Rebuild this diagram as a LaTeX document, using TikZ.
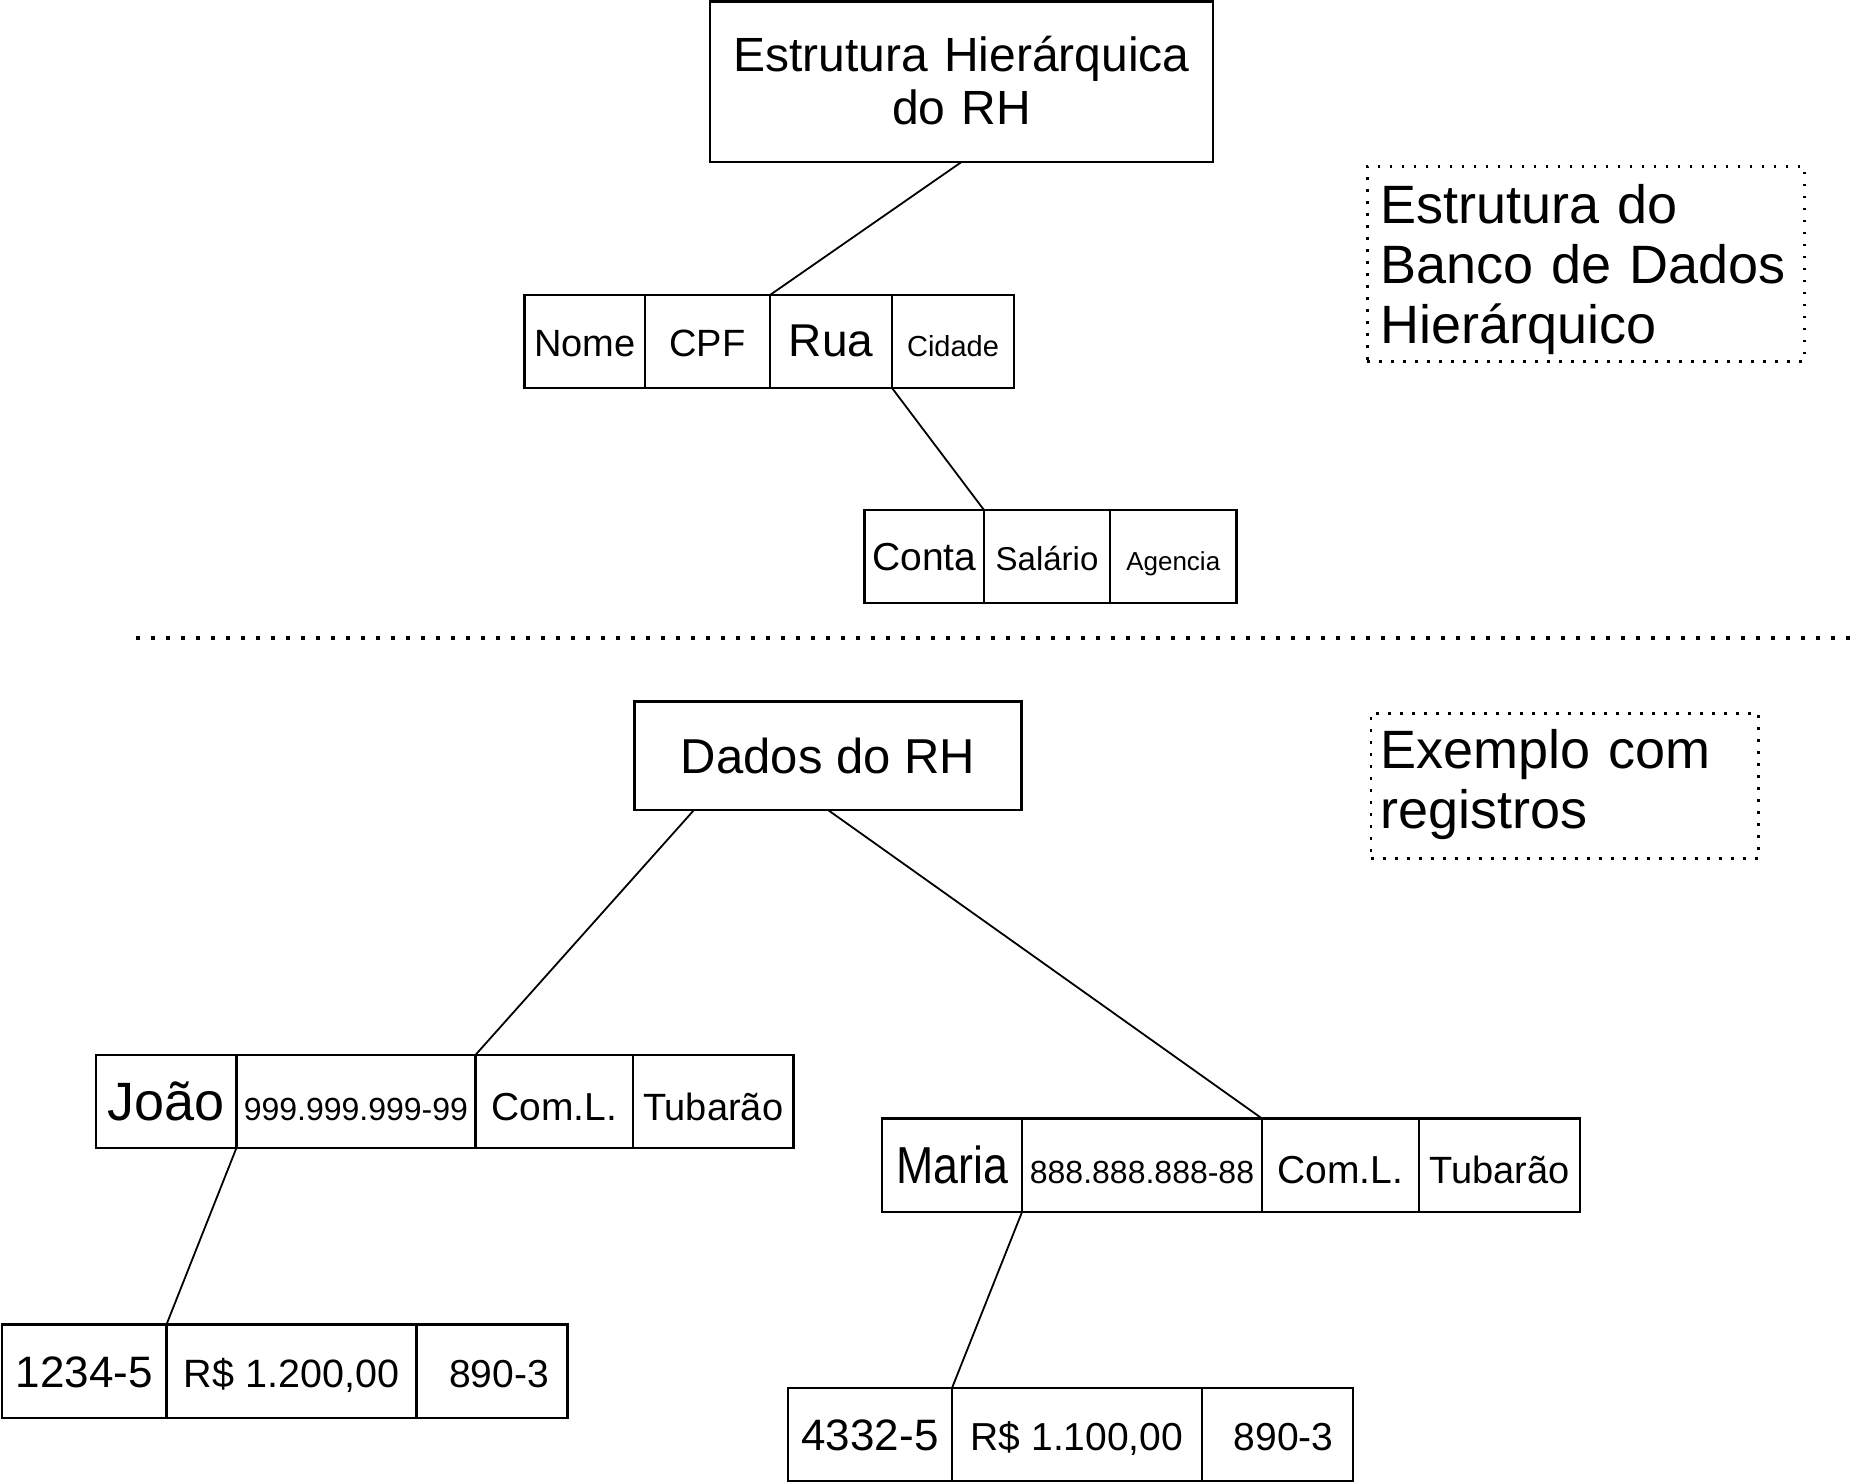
\documentclass[tikz,border=0pt]{standalone}
\usepackage{graphicx}
\usepackage{fontspec}
\setmainfont{Liberation Sans}
\begin{document}
\begin{tikzpicture}[x=1pt,y=-1pt,
  box/.style={draw, line width=2.2pt, inner sep=0pt, outer sep=0pt, anchor=north west},
  cell/.style={box, text depth=0pt},
  fs/.style={font=\fontsize{#1pt}{#1pt}\selectfont},
  link/.style={line width=1.8pt},
  dotbox/.style={draw, line width=2.8pt, dash pattern=on 2.8pt off 9.2pt, inner sep=0pt, anchor=north west, align=left},
  sepline/.style={line width=3.5pt, dash pattern=on 3.5pt off 11.5pt},
]
\useasboundingbox (0,0) rectangle (1859,1483);

% ---------- upper structure ----------
\node[box, font=\fontsize{48pt}{53pt}\selectfont, minimum width=503pt, minimum height=160.5pt,
      text width=480pt, align=center, text height=34.4pt, text depth=55.4pt] (title) at (710,1.5)
      {Estrutura Hierárquica\\do RH};

\begin{scope}[every node/.append style={minimum height=93pt, text height=29pt}]
\node[cell, fs=38, minimum width=120.5pt] (nome)   at (524.5,295) {Nome};
\node[cell, fs=38, minimum width=125pt]   (cpf)    at (645,295)   {CPF};
\node[cell, fs=46, minimum width=122pt]   (rua)    at (770,295)   {Rua};
\node[cell, fs=29, minimum width=122pt]   (cidade) at (892,295)   {Cidade};
\end{scope}

\begin{scope}[every node/.append style={minimum height=93pt, text height=28pt}]
\node[cell, fs=39, minimum width=119.5pt] (conta)   at (864.5,510) {Conta};
\node[cell, fs=33, minimum width=126pt]   (salario) at (984,510)   {Salário};
\node[cell, fs=26, minimum width=126.5pt] (agencia) at (1110,510)  {Agencia};
\end{scope}

\draw[link] (title.south) -- (rua.north west);
\draw[link] (cidade.south west) -- (salario.north west);

\node[dotbox, font=\fontsize{54pt}{60pt}\selectfont, minimum width=437pt, minimum height=195pt,
      text width=411.6pt, text height=38.7pt, text depth=120pt] (legA) at (1366,165)
      {Estrutura do\\Banco de Dados\\Hierárquico};

% ---------- separator ----------
\coordinate (sepL) at (136,638);
\coordinate (sepR) at (1859,638);
\draw[sepline] (sepL) -- (sepR);

% ---------- lower example ----------
\node[box, fs=49, minimum width=387pt, minimum height=108.5pt, text height=35pt, text depth=0pt] (dados) at (634.5,701.5) {Dados do RH};

\node[dotbox, font=\fontsize{54pt}{60pt}\selectfont, minimum width=387.5pt, minimum height=145pt,
      text width=368.5pt, text height=38.7pt, text depth=74pt] (legB) at (1369.5,712)
      {Exemplo com\\registros};

\begin{scope}[every node/.append style={minimum height=93pt, text height=37pt}]
\node[cell, fs=54, minimum width=140.7pt] (jnome) at (95.7,1055)  {João};
\node[cell, fs=32, minimum width=239pt]   (jcpf)  at (236.4,1055) {999.999.999-99};
\node[cell, fs=39, minimum width=157.4pt] (jcom)  at (475.4,1055) {Com.L.};
\node[cell, fs=38, minimum width=160.6pt] (jcid)  at (632.8,1055) {Tubarão};
\end{scope}

\begin{scope}[every node/.append style={minimum height=93.5pt, text height=32pt}]
\node[cell, fs=44, minimum width=164.5pt] (jconta) at (2,1324.5)     {1234-5};
\node[cell, fs=39.5, minimum width=249.9pt] (jsal) at (166.5,1324.5) {R\$ 1.200,00};
\node[cell, fs=39, minimum width=151pt]   (jag)    at (416.4,1324.5) {\hspace*{14pt}890-3};
\end{scope}

\begin{scope}[every node/.append style={minimum height=93.5pt, text height=36pt}]
\node[cell, fs=52, minimum width=140pt] (mnome) at (882,1118.5)  {\scalebox{0.86}[1]{Maria}};
\node[cell, fs=32, minimum width=240pt] (mcpf)  at (1022,1118.5) {888.888.888-88};
\node[cell, fs=39, minimum width=157pt] (mcom)  at (1262,1118.5) {Com.L.};
\node[cell, fs=38, minimum width=161pt] (mcid)  at (1419,1118.5) {Tubarão};
\end{scope}

\begin{scope}[every node/.append style={minimum height=93pt, text height=31pt}]
\node[cell, fs=44, minimum width=164pt] (mconta) at (788,1388)  {4332-5};
\node[cell, fs=39, minimum width=250pt] (msal)   at (952,1388)  {R\$ 1.100,00};
\node[cell, fs=39, minimum width=151pt] (mag)    at (1202,1388) {\hspace*{12pt}890-3};
\end{scope}

\draw[link] ([xshift=59.5pt]dados.south west) -- (jcom.north west);
\draw[link] (dados.south) -- (mcom.north west);
\draw[link] (jcpf.south west) -- (jsal.north west);
\draw[link] (mcpf.south west) -- (msal.north west);
\end{tikzpicture}
\end{document}
